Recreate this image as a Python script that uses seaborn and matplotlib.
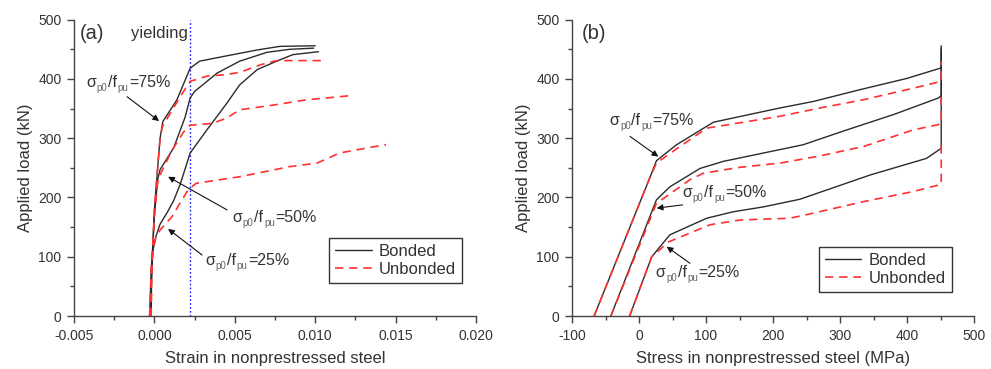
import matplotlib
matplotlib.use("Agg")
import matplotlib.pyplot as plt
from matplotlib.lines import Line2D
from matplotlib.ticker import MultipleLocator
import seaborn as sns

# ---------------- panel (a): load vs. strain in nonprestressed steel ----------------
a75_bonded_strain = [-0.0002, -0.00018, -0.0001, 0.0, 0.0002, 0.00035, 0.00052, 0.0014,
                     0.00222, 0.0028, 0.0043, 0.0064, 0.0078, 0.0100]
a75_bonded_load = [0, 60, 120, 180, 250, 300, 328, 365, 418, 430, 438, 449, 455, 456]

a75_unbonded_strain = [-0.0002, -0.00018, -0.0001, 0.0, 0.0002, 0.00035, 0.0005, 0.0016,
                       0.00222, 0.0033, 0.0043, 0.0053, 0.0066, 0.0076, 0.0106]
a75_unbonded_load = [0, 60, 120, 180, 250, 300, 320, 370, 396, 405, 407, 411, 424, 431, 431]

a50_bonded_strain = [-0.00025, -0.0002, -0.00012, 0.0, 0.0002, 0.00035, 0.0012, 0.0019,
                     0.00222, 0.0025, 0.0039, 0.0053, 0.0070, 0.0084, 0.0099]
a50_bonded_load = [0, 50, 110, 170, 230, 247, 284, 335, 368, 379, 410, 430, 445, 450, 452]

a50_unbonded_strain = [-0.00025, -0.0002, -0.00012, 0.0, 0.0002, 0.0004, 0.0011, 0.0018,
                       0.00222, 0.0027, 0.0036, 0.0045, 0.0053, 0.0074, 0.0095, 0.0115, 0.0122]
a50_unbonded_load = [0, 50, 110, 170, 225, 241, 280, 310, 322, 323, 325, 334, 348, 356, 365, 370, 372]

a25_bonded_strain = [-0.0003, -0.00025, -0.0002, -0.0001, 0.0001, 0.00035, 0.0008, 0.0012,
                     0.0016, 0.00222, 0.00326, 0.0045, 0.0053, 0.0064, 0.0076, 0.0086, 0.0102]
a25_bonded_load = [0, 40, 80, 110, 135, 155, 175, 195, 222, 275, 314, 359, 390, 416, 430, 441, 446]

a25_unbonded_strain = [-0.0003, -0.00025, -0.0002, -0.0001, 0.0001, 0.00035, 0.0011, 0.0016,
                       0.0021, 0.0026, 0.0053, 0.0084, 0.0101, 0.0107, 0.0115, 0.0125,
                       0.0135, 0.0144]
a25_unbonded_load = [0, 40, 80, 110, 135, 145, 168, 191, 213, 224, 235, 252, 258, 265, 275,
                     280, 285, 289]

yield_strain = 0.00224

# ---------------- panel (b): load vs. stress in nonprestressed steel ----------------
b75_bonded_stress = [-67, 16, 26, 56, 111, 210, 260, 330, 400, 449, 451, 451]
b75_bonded_load = [0, 233, 262, 289, 327, 351, 362, 382, 401, 418, 420, 456]
b75_unbonded_stress = [-67, 16, 26, 56, 101, 210, 270, 335, 400, 444, 451, 451]
b75_unbonded_load = [0, 233, 258, 282, 317, 337, 351, 365, 382, 394, 396, 430]

b50_bonded_stress = [-42, 26, 46, 91, 126, 245, 310, 380, 447, 451, 451]
b50_bonded_load = [0, 196, 218, 249, 261, 289, 314, 340, 368, 372, 452]
b50_unbonded_stress = [-42, 26, 76, 96, 151, 210, 265, 335, 409, 447, 451, 451]
b50_unbonded_load = [0, 190, 230, 241, 251, 258, 269, 286, 314, 323, 325, 372]

b25_bonded_stress = [-14, 19, 46, 101, 141, 185, 240, 345, 429, 451, 451]
b25_bonded_load = [0, 100, 137, 165, 176, 184, 197, 238, 266, 283, 446]
b25_unbonded_stress = [-14, 19, 44, 106, 151, 225, 250, 335, 409, 447, 451, 451]
b25_unbonded_load = [0, 100, 125, 154, 162, 165, 171, 193, 210, 221, 222, 288]

ratio_labels = ["75%", "50%", "25%"]
legend_labels = ["Bonded", "Unbonded"]

# ---------------- styling ----------------
sns.set_theme(style="ticks")
plt.rcParams["font.family"] = ["Liberation Sans", "DejaVu Sans"]
plt.rcParams["axes.unicode_minus"] = False

TXT = "#333333"
SUB = "#666666"
BONDED = "#2b2b2b"
UNBONDED = "#ff3030"

fig = plt.figure(figsize=(9.91, 3.69), dpi=100)
ax_a = fig.add_axes([0.0747, 0.1436, 0.4057, 0.803])
ax_b = fig.add_axes([0.5772, 0.1436, 0.4057, 0.803])


def draw(ax, x, y, bonded):
    if bonded:
        sns.lineplot(x=x, y=y, ax=ax, sort=False, estimator=None, color=BONDED, lw=1.0)
    else:
        line = sns.lineplot(x=x, y=y, ax=ax, sort=False, estimator=None, color=UNBONDED,
                            lw=1.2).lines[-1]
        line.set_dashes((5, 3.5))


for xs, ys, b in [(a75_bonded_strain, a75_bonded_load, True),
                  (a50_bonded_strain, a50_bonded_load, True),
                  (a25_bonded_strain, a25_bonded_load, True),
                  (a75_unbonded_strain, a75_unbonded_load, False),
                  (a50_unbonded_strain, a50_unbonded_load, False),
                  (a25_unbonded_strain, a25_unbonded_load, False)]:
    draw(ax_a, xs, ys, b)

for xs, ys, b in [(b75_bonded_stress, b75_bonded_load, True),
                  (b50_bonded_stress, b50_bonded_load, True),
                  (b25_bonded_stress, b25_bonded_load, True),
                  (b75_unbonded_stress, b75_unbonded_load, False),
                  (b50_unbonded_stress, b50_unbonded_load, False),
                  (b25_unbonded_stress, b25_unbonded_load, False)]:
    draw(ax_b, xs, ys, b)

ax_a.axvline(yield_strain, color="#1a1aff", lw=1.0, ls=(0, (1.2, 1.6)), zorder=1)

# axes formatting
for ax in (ax_a, ax_b):
    ax.set_ylim(0, 500)
    ax.yaxis.set_major_locator(MultipleLocator(100))
    ax.yaxis.set_minor_locator(MultipleLocator(50))
    ax.set_ylabel("Applied load (kN)", fontsize=12, color=TXT, labelpad=3.5)
    for s in ("top", "right"):
        ax.spines[s].set_visible(False)
    for s in ("left", "bottom"):
        ax.spines[s].set_color("#444444")
        ax.spines[s].set_linewidth(1.0)
    ax.tick_params(which="major", direction="out", length=5, width=1.0, color="#444444",
                   labelsize=10, labelcolor=TXT, pad=4)
    ax.tick_params(which="minor", direction="out", length=3, width=1.0, color="#444444")

ax_a.set_xlim(-0.005, 0.020)
ax_a.xaxis.set_major_locator(MultipleLocator(0.005))
ax_a.xaxis.set_minor_locator(MultipleLocator(0.0025))
ax_a.set_xticks([-0.005, 0, 0.005, 0.010, 0.015, 0.020])
ax_a.set_xticklabels(["-0.005", "0.000", "0.005", "0.010", "0.015", "0.020"])
ax_a.set_xlabel("Strain in nonprestressed steel", fontsize=12, color=TXT, labelpad=6)

ax_b.set_xlim(-100, 500)
ax_b.xaxis.set_major_locator(MultipleLocator(100))
ax_b.xaxis.set_minor_locator(MultipleLocator(50))
ax_b.set_xlabel("Stress in nonprestressed steel (MPa)", fontsize=12, color=TXT, labelpad=6)

# panel tags and yield marker text
ax_a.text(-0.00465, 477, "(a)", fontsize=14.5, color=TXT, va="center", ha="left")
ax_a.text(0.0021, 477, "yielding", fontsize=12, color=TXT, va="center", ha="right")
ax_b.text(-85, 477, "(b)", fontsize=14.5, color=TXT, va="center", ha="left")


def ratio_label(ax, x, y, pct):
    """Write sigma_p0/f_pu=pct with small lowered subscripts, baseline at (x, y)."""
    head = ax.text(x, y, "σ", fontsize=11.5, color=TXT, va="baseline", ha="left")
    prev = head
    for piece, sub in (("p0", True), ("/f", False), ("pu", True), ("=" + pct, False)):
        if sub:
            prev = ax.annotate(piece, xy=(1, 0), xycoords=(prev, head),
                               xytext=(0.6, -0.8), textcoords="offset points",
                               fontsize=7, color=SUB, va="baseline", ha="left")
        else:
            prev = ax.annotate(piece, xy=(1, 0), xycoords=(prev, head),
                               xytext=(0.4, 0), textcoords="offset points",
                               fontsize=11.5, color=TXT, va="bottom", ha="left")


arrow = dict(arrowstyle="-|>", color="#111111", lw=0.8, mutation_scale=9, shrinkA=0, shrinkB=0)

# annotations, panel (a)
ratio_label(ax_a, -0.00425, 387, ratio_labels[0])
ax_a.annotate("", xy=(0.00029, 329), xytext=(-0.0017, 370), arrowprops=arrow)
ratio_label(ax_a, 0.00484, 159, ratio_labels[1])
ax_a.annotate("", xy=(0.00085, 235), xytext=(0.00452, 179), arrowprops=arrow)
ratio_label(ax_a, 0.00315, 86, ratio_labels[2])
ax_a.annotate("", xy=(0.00085, 147), xytext=(0.00296, 103), arrowprops=arrow)

# annotations, panel (b)
ratio_label(ax_b, -44.3, 323, ratio_labels[0])
ax_b.annotate("", xy=(28.8, 269), xytext=(-13.4, 303), arrowprops=arrow)
ratio_label(ax_b, 64.6, 201.5, ratio_labels[1])
ax_b.annotate("", xy=(26.4, 182), xytext=(65, 187.5), arrowprops=arrow)
ratio_label(ax_b, 24.9, 66.4, ratio_labels[2])
ax_b.annotate("", xy=(41.3, 117), xytext=(76, 89), arrowprops=arrow)

# legends
handles = [Line2D([], [], color=BONDED, lw=1.0),
           Line2D([], [], color=UNBONDED, lw=1.2, dashes=(5, 3.5))]
for ax, anchor in ((ax_a, (0.965, 0.111)), (ax_b, (0.945, 0.081))):
    leg = ax.legend(handles, legend_labels, loc="lower right", bbox_to_anchor=anchor,
                    fontsize=12, frameon=True, fancybox=False, framealpha=1,
                    handlelength=2.2, handletextpad=0.45, labelspacing=0.2,
                    borderpad=0.35, borderaxespad=0)
    leg.get_frame().set_edgecolor("#333333")
    leg.get_frame().set_linewidth(1.0)
    for t in leg.get_texts():
        t.set_color(TXT)

fig.savefig("out.png", dpi=100)
